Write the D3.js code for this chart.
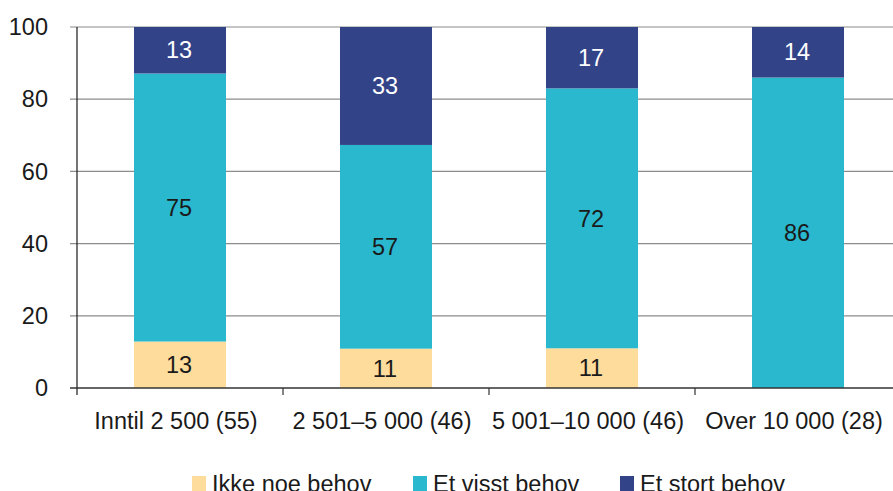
<!DOCTYPE html>
<html><head><meta charset="utf-8">
<script src="https://cdn.jsdelivr.net/npm/d3@7"></script>
<style>body{margin:0;background:#fff}svg{display:block}text{font-family:"Liberation Sans",Arial,sans-serif}</style>
</head><body><svg id="c" width="893" height="491"></svg>
<script>
const categories = ["Inntil 2 500 (55)", "2 501–5 000 (46)", "5 001–10 000 (46)", "Over 10 000 (28)"];
const seriesNames = ["Ikke noe behov", "Et visst behov", "Et stort behov"];
const ikkeNoe = [13, 11, 11, 0];
const etVisst = [75, 57, 72, 86];
const etStort = [13, 33, 17, 14];
const yTicks = [0, 20, 40, 60, 80, 100];
const colors = ["#FEDC9B", "#2AB8CE", "#324388"];
const labelColors = ["#1a1a1a", "#1a1a1a", "#ffffff"];

const rows = categories.map((c, i) => ({cat: c, s0: ikkeNoe[i], s1: etVisst[i], s2: etStort[i]}));
const stack = d3.stack().keys(["s0", "s1", "s2"]).offset(d3.stackOffsetExpand);
const layers = stack(rows);

const svg = d3.select("#c");
const x = d3.scaleBand().domain(categories).range([77, 901]).paddingInner(0).paddingOuter(0);
const y = d3.scaleLinear().domain([0, 100]).range([388, 27]);
const bw = 92;
const fs = 23.5;

svg.append("g").selectAll("line").data(yTicks.filter(t => t > 0)).join("line")
  .attr("x1", 70).attr("x2", 893).attr("y1", d => y(d)).attr("y2", d => y(d))
  .attr("stroke", "#8c8c8c").attr("stroke-width", 1.2);

svg.append("g").selectAll("text").data(yTicks).join("text")
  .attr("x", 48).attr("y", d => y(d)).attr("dy", "0.35em").attr("text-anchor", "end")
  .attr("font-size", fs).attr("fill", "#1a1a1a").text(d => d);

layers.forEach((layer, k) => {
  const g = svg.append("g");
  g.selectAll("rect").data(layer).join("rect")
    .attr("x", d => x(d.data.cat) + x.bandwidth() / 2 - bw / 2)
    .attr("width", bw)
    .attr("y", d => y(d[1] * 100))
    .attr("height", d => y(d[0] * 100) - y(d[1] * 100))
    .attr("fill", colors[k]);
  g.selectAll("text").data(layer.filter(d => d.data[layer.key] > 0)).join("text")
    .attr("x", d => x(d.data.cat) + x.bandwidth() / 2 - 1)
    .attr("y", d => y((d[0] + d[1]) / 2 * 100))
    .attr("dy", "0.35em").attr("text-anchor", "middle")
    .attr("font-size", fs).attr("fill", labelColors[k])
    .text(d => d.data[layer.key]);
});

svg.append("line").attr("x1", 77).attr("x2", 77).attr("y1", 27).attr("y2", 395)
  .attr("stroke", "#1a1a1a").attr("stroke-width", 1.2);
svg.append("line").attr("x1", 70).attr("x2", 893).attr("y1", y(0)).attr("y2", y(0))
  .attr("stroke", "#333").attr("stroke-width", 1.4);
svg.append("g").selectAll("line").data(categories.slice(1)).join("line")
  .attr("x1", d => x(d)).attr("x2", d => x(d)).attr("y1", y(0)).attr("y2", y(0) + 7)
  .attr("stroke", "#333").attr("stroke-width", 1.2);

svg.append("g").selectAll("text").data(categories).join("text")
  .attr("x", d => x(d) + x.bandwidth() / 2 - 4).attr("y", 429)
  .attr("text-anchor", "middle").attr("font-size", fs).attr("fill", "#1a1a1a").text(d => d);

const legX = [192, 413, 620];
const lg = svg.append("g");
seriesNames.forEach((n, i) => {
  lg.append("rect").attr("x", legX[i]).attr("y", 476).attr("width", 14).attr("height", 15).attr("fill", colors[i]);
  lg.append("text").attr("x", legX[i] + 20).attr("y", 492).attr("font-size", fs).attr("fill", "#1a1a1a").text(n);
});
</script></body></html>
